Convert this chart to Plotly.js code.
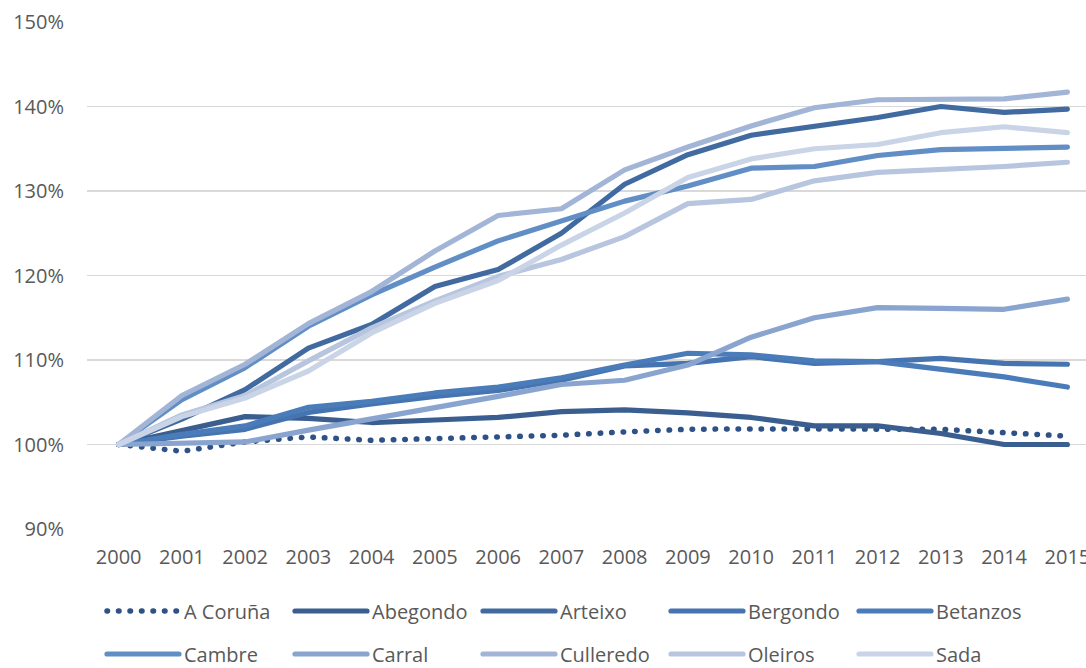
<!DOCTYPE html>
<html>
<head>
<meta charset="utf-8">
<script src="https://cdn.plot.ly/plotly-3.0.1.min.js"></script>
<style>
  html, body { margin: 0; padding: 0; background: #fff; overflow: hidden; }
  #chart { width: 1100px; height: 668px; }
  .scatterlayer path.js-line, .legendlines path { stroke-linecap: round; stroke-linejoin: round; }
</style>
</head>
<body>
<div id="chart"></div>
<script>
// Population index by municipality (2000 = 100%)
const years = ['2000','2001','2002','2003','2004','2005','2006','2007',
               '2008','2009','2010','2011','2012','2013','2014','2015'];

const aCoruna   = [100, 99.2, 100.3, 100.9, 100.5, 100.7, 100.8, 101.1, 101.5, 101.8, 101.85, 101.85, 101.85, 101.8, 101.4, 101.0];
const abegondo  = [100, 101.7, 103.3, 103.1, 102.6, 102.9, 103.2, 103.9, 104.1, 103.75, 103.2, 102.2, 102.2, 101.3, 100.0, 100.0];
const arteixo   = [100, 103.0, 106.5, 111.4, 114.2, 118.7, 120.7, 125.0, 130.8, 134.3, 136.6, 137.6, 138.7, 140.0, 139.3, 139.7];
const bergondo  = [100, 101.0, 101.8, 103.8, 104.8, 105.7, 106.4, 107.6, 109.3, 109.6, 110.4, 109.6, 109.8, 110.2, 109.6, 109.5];
const betanzos  = [100, 101.2, 102.2, 104.4, 105.1, 106.1, 106.8, 107.9, 109.4, 110.8, 110.6, 109.9, 109.8, 108.9, 108.0, 106.8];
const cambre    = [100, 105.3, 109.1, 114.0, 117.7, 121.0, 124.1, 126.4, 128.8, 130.6, 132.7, 132.9, 134.2, 134.9, 135.1, 135.2];
const carral    = [100, 100.2, 100.3, 101.7, 103.0, 104.4, 105.7, 107.1, 107.6, 109.4, 112.7, 115.0, 116.2, 116.1, 116.0, 117.2];
const culleredo = [100, 105.8, 109.5, 114.3, 118.1, 122.9, 127.1, 127.9, 132.5, 135.2, 137.7, 139.85, 140.8, 140.8, 140.9, 141.7];
const oleiros   = [100, 103.5, 105.8, 109.9, 113.8, 117.0, 119.9, 121.9, 124.6, 128.5, 129.0, 131.2, 132.2, 132.5, 132.9, 133.4];
const sada      = [100, 103.3, 105.5, 108.7, 113.2, 116.7, 119.4, 123.6, 127.4, 131.6, 133.8, 135.0, 135.5, 136.9, 137.6, 136.9];

const seriesNames  = ['A Coruña','Abegondo','Arteixo','Bergondo','Betanzos','Cambre','Carral','Culleredo','Oleiros','Sada'];
const seriesValues = [aCoruna, abegondo, arteixo, bergondo, betanzos, cambre, carral, culleredo, oleiros, sada];
const seriesColors = ['#2e5286','#3a5e8f','#406aa0','#4574b0','#4b7cba','#628ec6','#88a4cf','#a2b5d7','#b8c5df','#cad4e7'];

const yTicks = [90, 100, 110, 120, 130, 140, 150];

const font = { family: 'Open Sans, sans-serif', size: 20, color: '#595959' };

const traces = seriesNames.map((name, i) => ({
  type: 'scatter',
  mode: 'lines',
  name: name,
  x: years,
  y: seriesValues[i],
  legend: i < 5 ? 'legend' : 'legend2',
  line: {
    color: seriesColors[i],
    width: i === 0 ? 5.5 : 5.2,
    dash: i === 0 ? '0.5px,11px' : 'solid'
  },
  hoverinfo: 'x+y+name'
}));

const legendBase = {
  orientation: 'h',
  xref: 'container',
  yref: 'container',
  x: 102 / 1100,
  xanchor: 'left',
  yanchor: 'middle',
  font: font,
  itemwidth: 72,
  entrywidth: 101,
  entrywidthmode: 'pixels',
  bgcolor: 'rgba(0,0,0,0)',
  borderwidth: 0,
  traceorder: 'normal'
};

const layout = {
  width: 1100,
  height: 668,
  margin: { l: 87, r: 1, t: 22, b: 139, pad: 0 },
  paper_bgcolor: '#ffffff',
  plot_bgcolor: '#ffffff',
  font: font,
  showlegend: true,
  xaxis: {
    type: 'category',
    range: [-0.5, 15.5],
    showgrid: false,
    zeroline: false,
    showline: false,
    ticks: '',
    tickfont: font,
    ticklabelstandoff: 14,
    fixedrange: true
  },
  yaxis: {
    range: [90, 150],
    tickvals: yTicks,
    ticktext: yTicks.map(v => v + '%'),
    showgrid: true,
    gridcolor: '#d9d9d9',
    gridwidth: 1.3,
    zeroline: false,
    showline: false,
    ticks: '',
    tickfont: font,
    ticklabelstandoff: 22,
    fixedrange: true
  },
  legend: Object.assign({}, legendBase, { y: 1 - 611 / 668 }),
  legend2: Object.assign({}, legendBase, { y: 1 - 654 / 668 })
};

Plotly.newPlot('chart', traces, layout, { displayModeBar: false, staticPlot: true });
</script>
</body>
</html>
